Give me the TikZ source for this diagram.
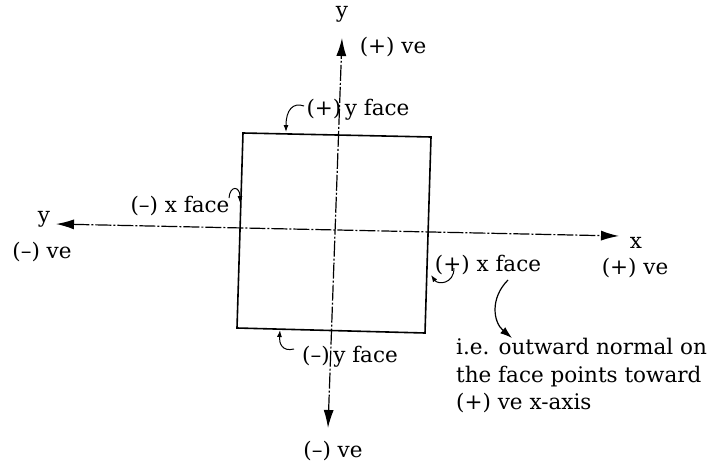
\documentclass[tikz,border=0pt]{standalone}
\usepackage{fontspec}
\setmainfont{DejaVu Serif}
\usetikzlibrary{arrows.meta}
\begin{document}
\begin{tikzpicture}[x=1pt,y=-1pt,
  lbl/.style={font=\fontsize{21.5}{27.5}\selectfont, inner sep=0pt, anchor=center},
  axisline/.style={line width=1.2pt, dash pattern=on 16pt off 2pt on 2pt off 2pt,
    {Latex[length=18pt,width=10pt]}-{Latex[length=18pt,width=10pt]}},
  facebox/.style={line width=1.6pt, line join=miter},
  hook/.style={line width=1pt, -{Latex[length=7pt,width=5pt]}},
  bighook/.style={line width=1.2pt, -{Latex[length=12pt,width=8pt]}}
]
\useasboundingbox (0,0) rectangle (712,466);
% square corners
\coordinate (tl) at (243,133);
\coordinate (tr) at (431,137);
\coordinate (br) at (425,333);
\coordinate (bl) at (237,328);
\draw[facebox] (tl) -- (tr) -- (br) -- (bl) -- cycle;
% axes
\coordinate (ytop) at (342,38);
\coordinate (ybot) at (328,428);
\coordinate (xleft) at (56,224);
\coordinate (xright) at (619,236);
\draw[axisline] (ybot) -- (ytop);
\draw[axisline] (xleft) -- (xright);
% axis labels
\node[lbl] (ylab) at (342,14) {y};
\node[lbl] (ypos) at (393,47) {(+) ve};
\node[lbl] (yleft) at (44,219) {y};
\node[lbl] (yneg) at (42,252) {(--) ve};
\node[lbl] (xlab) at (636,243) {x};
\node[lbl] (xpos) at (635,268) {(+) ve};
\node[lbl] (ybneg) at (333,451) {(--) ve};
% face labels
\node[lbl] (pyface) at (358,110) {(+)\,y face};
\node[lbl] (nxface) at (180,206) {(--) x face};
\node[lbl] (pxface) at (488,265) {(+) x face};
\node[lbl] (nyface) at (350,357) {(--)\,y face};
\node[lbl, anchor=north west, align=left] (note) at (456,338)
  {i.e. outward normal on\\the face points toward\\(+) ve x-axis};
% small hooks
\coordinate (a1) at (304,106);
\coordinate (a1e) at (286,132);
\draw[hook] (a1) .. controls (293,102) and (286,110) .. (a1e);
\coordinate (a2) at (229,198);
\coordinate (a2e) at (240,203);
\draw[hook] (a2) .. controls (230,185) and (240,186) .. (a2e);
\coordinate (a3) at (454,268);
\coordinate (a3e) at (431,275);
\draw[hook] (a3) .. controls (454,284) and (438,285) .. (a3e);
\coordinate (a4) at (294,349);
\coordinate (a4e) at (280,330);
\draw[hook] (a4) .. controls (282,352) and (279,343) .. (a4e);
% big hook
\coordinate (b1) at (508,280);
\coordinate (b1e) at (512,338);
\draw[bighook] (b1) .. controls (490,298) and (493,322) .. (b1e);
\end{tikzpicture}
\end{document}
